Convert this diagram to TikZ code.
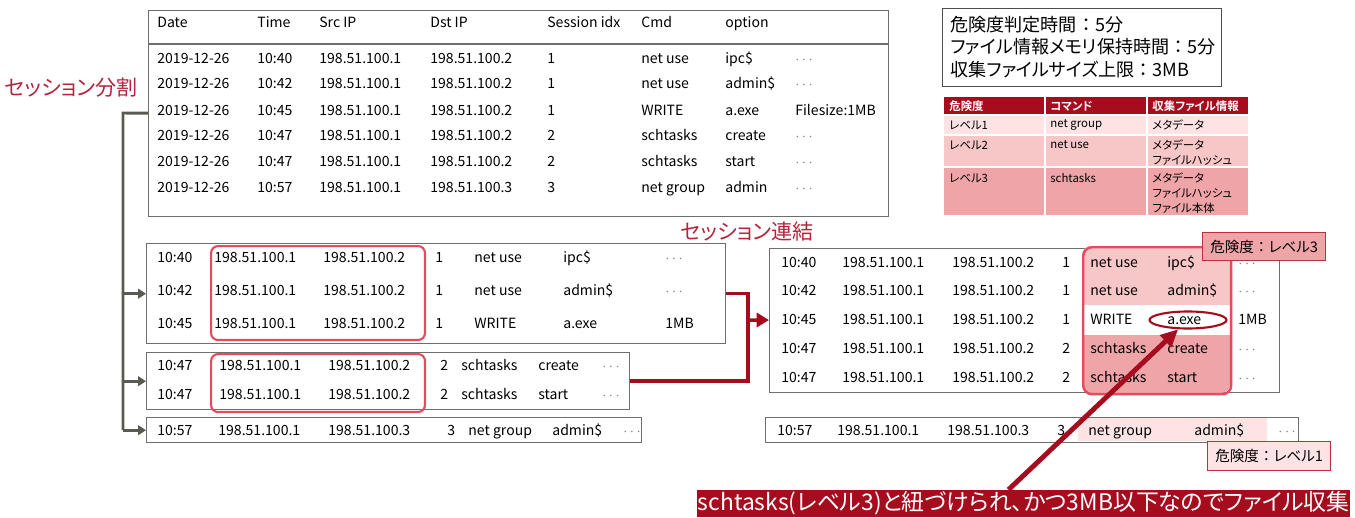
\documentclass[tikz,border=0pt]{standalone}
\usepackage{fontspec}
\setmainfont{Noto Sans CJK JP}[RawFeature={+palt}, BoldFont={Noto Sans CJK JP Bold}]
\newfontfamily\jpfull{Noto Sans CJK JP}
\usetikzlibrary{shapes.geometric, arrows.meta, positioning}

\definecolor{boxgray}{HTML}{6E6E6E}
\definecolor{linegray}{HTML}{5A5A52}
\definecolor{darkred}{HTML}{A50D1E}
\definecolor{textred}{HTML}{B3243C}
\definecolor{tagred}{HTML}{C0303C}
\definecolor{pinkline}{HTML}{E54A5E}
\definecolor{lvlone}{HTML}{FDE3E3}
\definecolor{lvltwo}{HTML}{F7C6C7}
\definecolor{lvlthree}{HTML}{EFA4A7}

\newcommand{\moredots}{\textcolor{gray}{$\cdots$}}
\newcommand{\fwcolon}{{\jpfull ：}}

\begin{document}
\begin{tikzpicture}[x=0.02cm, y=-0.02cm]
        \tikzstyle{cell} = [anchor=base west, inner sep=0pt, font=\fontsize{8}{9.6}\selectfont]
        \tikzstyle{logbox} = [rectangle, anchor=north west, draw=boxgray, line width=0.8pt, inner sep=0pt]
        \tikzstyle{ipbox} = [rectangle, anchor=north west, rounded corners=4pt, draw=pinkline, line width=1.2pt, inner sep=0pt]
        \tikzstyle{tag} = [rectangle, anchor=north west, draw=tagred, line width=0.8pt, minimum width=2.46cm, font=\fontsize{8.3}{10}\selectfont]
        \tikzstyle{redlabel} = [text=textred, font=\fontsize{12}{14}\selectfont]
        \tikzstyle{risk} = [anchor=west, inner sep=0pt, align=left, font=\fontsize{6.5}{8.5}\selectfont]
        \tikzstyle{splitline} = [draw=linegray, line width=1.7pt]
        \tikzstyle{joinline} = [draw=darkred, line width=2pt]

        \useasboundingbox (0,0) rectangle (1355,517);

        % full log
        \node (log) [logbox, minimum width=14.8cm, minimum height=4.12cm] at (148,10) {};
        \draw [boxgray, line width=0.8pt] (148,44) -- (888,44);
        \node (h-date) [cell] at (157,28) {Date};
        \node (h-time) [cell] at (257,28) {Time};
        \node (h-src) [cell] at (319,28) {Src IP};
        \node (h-dst) [cell] at (430,28) {Dst IP};
        \node (h-idx) [cell] at (547,28) {Session idx};
        \node (h-cmd) [cell] at (641,28) {Cmd};
        \node (h-opt) [cell] at (725,28) {option};
        \foreach \y/\t/\d/\i/\c/\o/\e [count=\r] in {64/10:40/2/1/net use/ipc\$/\moredots, 89/10:42/2/1/net use/admin\$/\moredots, 115/10:45/2/1/WRITE/a.exe/Filesize:1MB, 140/10:47/2/2/schtasks/create/\moredots, 166/10:47/2/2/schtasks/start/\moredots, 192/10:57/3/3/net group/admin/\moredots} {
            \node (log-\r-date) [cell] at (157,\y) {2019-12-26};
            \node (log-\r-time) [cell] at (257,\y) {\t};
            \node (log-\r-src) [cell] at (319,\y) {198.51.100.1};
            \node (log-\r-dst) [cell] at (430,\y) {198.51.100.\d};
            \node (log-\r-idx) [cell] at (547,\y) {\i};
            \node (log-\r-cmd) [cell] at (641,\y) {\c};
            \node (log-\r-opt) [cell] at (725,\y) {\o};
            \node (log-\r-ext) [cell] at (795,\y) {\e};
        }

        % settings and risk levels
        \node (info) [logbox, draw=black!70, minimum width=5.58cm, minimum height=1.56cm] at (942,8) {};
        \node (infotext) [anchor=west, inner sep=0pt, align=left, font=\fontsize{10.3}{12.8}\selectfont] at (950,47) {危険度判定時間\fwcolon 5分\\ファイル情報メモリ保持時間\fwcolon 5分\\収集ファイルサイズ上限\fwcolon 3MB};
        \fill [darkred] (944,97) rectangle (1248,115);
        \fill [lvlone] (944,115) rectangle (1248,135);
        \fill [lvltwo] (944,135) rectangle (1248,167);
        \fill [lvlthree] (944,167) rectangle (1248,215);
        \draw [white, line width=0.8pt] (1045,97) -- (1045,215) (1147,97) -- (1147,215) (944,115) -- (1248,115) (944,135) -- (1248,135) (944,167) -- (1248,167);
        \node (r-h1) [risk, text=white, font=\fontsize{6.5}{8.5}\selectfont\bfseries] at (949,106) {危険度};
        \node (r-h2) [risk, text=white, font=\fontsize{6.5}{8.5}\selectfont\bfseries] at (1050,106) {コマンド};
        \node (r-h3) [risk, text=white, font=\fontsize{6.5}{8.5}\selectfont\bfseries] at (1152,106) {収集ファイル情報};
        \node (r-1a) [risk] at (949,125) {レベル1};
        \node (r-1b) [risk] at (1050,125) {net group};
        \node (r-1c) [risk] at (1152,125) {メタデータ};
        \node (r-2a) [risk] at (949,145) {レベル2};
        \node (r-2b) [risk] at (1050,145) {net use};
        \node (r-2c) [risk] at (1152,152.5) {メタデータ\\ファイルハッシュ};
        \node (r-3a) [risk] at (949,178) {レベル3};
        \node (r-3b) [risk] at (1050,178) {schtasks};
        \node (r-3c) [risk] at (1152,193) {メタデータ\\ファイルハッシュ\\ファイル本体};

        % split sessions
        \node (splitlbl) [redlabel] at (71,88) {セッション分割};
        \node (s1) [logbox, minimum width=11.58cm, minimum height=2cm] at (146,243) {};
        \node (s2) [logbox, minimum width=9.66cm, minimum height=1.14cm] at (146,352) {};
        \node (s3) [logbox, minimum width=9.9cm, minimum height=0.5cm] at (146,417) {};
        \node (ip1) [ipbox, minimum width=4.28cm, minimum height=1.88cm] at (210,245) {};
        \node (ip2) [ipbox, minimum width=4.28cm, minimum height=1.16cm] at (210,353) {};
        \foreach \y/\t/\o/\e [count=\r] in {262/10:40/ipc\$/\moredots, 295/10:42/admin\$/\moredots, 328/10:45/a.exe/1MB} {
            \node (s1-\r-time) [cell] at (157,\y) {\t};
            \node (s1-\r-src) [cell] at (214,\y) {198.51.100.1};
            \node (s1-\r-dst) [cell] at (323,\y) {198.51.100.2};
            \node (s1-\r-idx) [cell] at (435,\y) {1};
            \node (s1-\r-opt) [cell] at (563,\y) {\o};
            \node (s1-\r-ext) [cell] at (665,\y) {\e};
        }
        \node (s1-1-cmd) [cell] at (474,262) {net use};
        \node (s1-2-cmd) [cell] at (474,295) {net use};
        \node (s1-3-cmd) [cell] at (474,328) {WRITE};
        \foreach \y/\o [count=\r] in {370/create, 399/start} {
            \node (s2-\r-time) [cell] at (157,\y) {10:47};
            \node (s2-\r-src) [cell] at (219,\y) {198.51.100.1};
            \node (s2-\r-dst) [cell] at (328,\y) {198.51.100.2};
            \node (s2-\r-idx) [cell] at (440,\y) {2};
            \node (s2-\r-cmd) [cell] at (461,\y) {schtasks};
            \node (s2-\r-opt) [cell] at (538,\y) {\o};
            \node (s2-\r-ext) [cell] at (602,\y) {\moredots};
        }
        \node (s3-time) [cell] at (157,435) {10:57};
        \node (s3-src) [cell] at (218,435) {198.51.100.1};
        \node (s3-dst) [cell] at (328,435) {198.51.100.3};
        \node (s3-idx) [cell] at (447,435) {3};
        \node (s3-cmd) [cell] at (468,435) {net group};
        \node (s3-opt) [cell] at (552,435) {admin\$};
        \node (s3-ext) [cell] at (623,435) {\moredots};

        \coordinate (split) at (123,113);
        \draw [splitline] (log) -- (split) -- (split |- s3);
        \foreach \b in {s1,s2,s3}
            \draw [splitline, -{Triangle[length=4.5pt, width=5.5pt]}] (split |- \b) -- (\b);

        % joined session
        \node (joinlbl) [redlabel] at (747,232) {セッション連結};
        \node (merged) [logbox, minimum width=10.2cm, minimum height=2.88cm] at (769,248) {};
        \begin{scope}
            \clip [rounded corners=5pt] (1082,246) rectangle (1230,393);
            \fill [lvltwo] (1082,246) rectangle (1230,305);
            \fill [white] (1082,305) rectangle (1230,335);
            \fill [lvlthree] (1082,335) rectangle (1230,393);
        \end{scope}
        \node (hi) [ipbox, rounded corners=5pt, line width=1.4pt, minimum width=2.96cm, minimum height=2.94cm] at (1082,246) {};
        \foreach \y/\t/\i/\c/\o/\e [count=\r] in {267/10:40/1/net use/ipc\$/\moredots, 295/10:42/1/net use/admin\$/\moredots, 324/10:45/1/WRITE/a.exe/1MB, 353/10:47/2/schtasks/create/\moredots, 382/10:47/2/schtasks/start/\moredots} {
            \node (m-\r-time) [cell] at (781,\y) {\t};
            \node (m-\r-src) [cell] at (842,\y) {198.51.100.1};
            \node (m-\r-dst) [cell] at (952,\y) {198.51.100.2};
            \node (m-\r-idx) [cell] at (1062,\y) {\i};
            \node (m-\r-cmd) [cell] at (1090,\y) {\c};
            \node (m-\r-opt) [cell] at (1167,\y) {\o};
            \node (m-\r-ext) [cell] at (1238,\y) {\e};
        }
        \node (exe) [ellipse, draw=darkred, line width=1.2pt, minimum width=1.54cm, minimum height=0.34cm] at (1188,320) {};

        \fill [lvlone] (1078,418) rectangle (1267,441);
        \node (rest) [logbox, minimum width=10.66cm, minimum height=0.5cm] at (765,417) {};
        \node (r-time) [cell] at (777,435) {10:57};
        \node (r-src) [cell] at (837,435) {198.51.100.1};
        \node (r-dst) [cell] at (947,435) {198.51.100.3};
        \node (r-idx) [cell] at (1057,435) {3};
        \node (r-cmd) [cell] at (1088,435) {net group};
        \node (r-opt) [cell] at (1194,435) {admin\$};
        \node (r-ext) [cell] at (1278,435) {\moredots};

        \node (tag3) [tag, fill=lvlthree, minimum height=0.56cm] at (1202,232) {危険度\fwcolon レベル3};
        \node (tag1) [tag, fill=lvlone, minimum height=0.58cm] at (1207,441) {危険度\fwcolon レベル1};

        \coordinate (join) at (748,320);
        \draw [joinline] (s1) -- (join |- s1) -- (join |- s2) -- (s2);
        \draw [joinline, -{Triangle[length=7pt, width=8pt]}] (join) -- (merged);

        % file collection
        \node (banner) [rectangle, fill=darkred, text=white, minimum width=13.06cm, minimum height=0.54cm, inner sep=0pt, font=\fontsize{13}{14}\selectfont] at (1023.5,503.5) {schtasks(レベル3)と紐づけられ、かつ3MB以下なのでファイル収集};
        \draw [darkred, line width=2.8pt, -{Triangle[length=10pt, width=9pt]}] ([xshift=-0.3cm]banner.north) -- (exe);
    \end{tikzpicture}
\end{document}
